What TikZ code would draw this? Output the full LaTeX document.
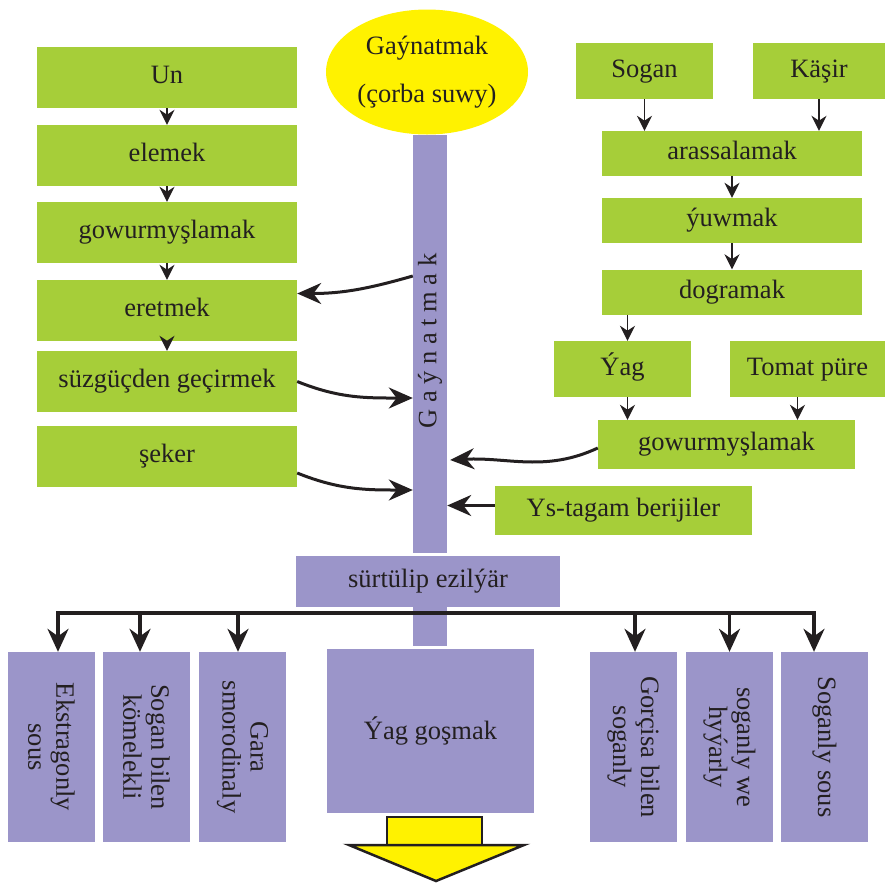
\documentclass[tikz,border=0pt]{standalone}
\usepackage{fontspec}
\setmainfont{Liberation Serif}
\usepackage{tikz}
\usetikzlibrary{positioning, arrows.meta, shapes.geometric}
\definecolor{leafgreen}{HTML}{A6CE39}
\definecolor{lavender}{HTML}{9B95C9}
\definecolor{sunyellow}{HTML}{FFF200}
\definecolor{ink}{HTML}{231F20}
\newcommand{\diafont}{\fontsize{26.5}{28}\selectfont}
\tikzstyle{stepbox} = [rectangle, fill=leafgreen, text=ink, font=\diafont,
    inner sep=0pt, text height=18pt, text depth=6pt]
\tikzstyle{leftbox} = [stepbox, minimum width=260pt, minimum height=61pt]
\tikzstyle{purplebox} = [rectangle, fill=lavender, text=ink, font=\diafont, inner sep=0pt]
\tikzstyle{dishbox} = [purplebox, minimum width=87pt, minimum height=190pt]
\tikzstyle{dishtext} = [rotate=-90, align=center, text=ink, font=\diafont]
\tikzstyle{smallarrow} = [draw, color=ink, line width=1.6pt, -{Stealth[length=15pt, width=15pt]}]
\tikzstyle{bigarrow} = [draw, color=ink, line width=3pt, -{Stealth[length=24pt, width=21pt]}]
\tikzstyle{forkarrow} = [draw, color=ink, line width=3.3pt, -{Stealth[length=23pt, width=21pt]}]

\begin{document}
\begin{tikzpicture}[x=1pt, y=1pt, node distance=78pt]
      \useasboundingbox (0,0) rectangle (885,-884);
      % Place flour nodes
      \node [leftbox] (flour) at (167,-77.5) {Un};
      \node [leftbox, below of=flour] (sift) {elemek};
      \node [leftbox, below of=sift, node distance=77pt] (roast) {gowurmyşlamak};
      \node [leftbox, below of=roast] (melt) {eretmek};
      \node [leftbox, below of=melt, node distance=71pt] (strain) {süzgüçden geçirmek};
      \node [leftbox, below of=strain, node distance=75pt] (sugar) {şeker};
      % Place vegetable nodes
      \node [stepbox, minimum width=137pt, minimum height=56pt] (onion) at (644.5,-71) {Sogan};
      \node [stepbox, minimum width=132pt, minimum height=56pt] (carrot) at (819,-71) {Käşir};
      \node [stepbox, minimum width=260pt, minimum height=45pt] (clean) at (732,-153.5) {arassalamak};
      \node [stepbox, minimum width=260pt, minimum height=45pt, below of=clean, node distance=67pt] (wash) {ýuwmak};
      \node [stepbox, minimum width=260pt, minimum height=45pt, below of=wash, node distance=71.5pt] (chop) {dogramak};
      \node [stepbox, minimum width=137pt, minimum height=56pt] (fat) at (622.5,-369) {Ýag};
      \node [stepbox, minimum width=155pt, minimum height=56pt] (tomato) at (807.5,-369) {Tomat püre};
      \node [stepbox, minimum width=257pt, minimum height=49pt] (fry) at (726.5,-444.5) {gowurmyşlamak};
      \node [stepbox, minimum width=257pt, minimum height=49pt] (spice) at (623.5,-510.5) {Ys-tagam berijiler};
      % Place boiling nodes
      \node [ellipse, fill=sunyellow, text=ink, font=\diafont, align=center, inner sep=0pt,
          minimum width=202pt, minimum height=125pt] (stock) at (427,-72) {Gaýnatmak\\[20pt](çorba suwy)};
      \node [purplebox, minimum width=34pt, minimum height=418pt] (boil) at (430,-344) {};
      \node [rotate=90, text=ink, font=\diafont] (boillabel) at ([yshift=3pt]boil.center) {G a ý n a t m a k};
      \node [purplebox, minimum width=264pt, minimum height=51pt, text height=18pt, text depth=6pt] (rub) at (428,-581.5) {sürtülip ezilýär};
      \node [purplebox, minimum width=34pt, minimum height=39pt] (stub) at (430,-626.5) {};
      \node [purplebox, minimum width=207pt, minimum height=164pt] (butter) at (430.5,-731) {Ýag goşmak};
      % Place sauce nodes
      \node [dishbox, label={[dishtext]center:Ekstragonly\\sous}] (tarragon) at (51.5,-747) {};
      \node [dishbox, label={[dishtext]center:Sogan bilen\\kömelekli}] (mushroom) at (146.5,-747) {};
      \node [dishbox, label={[dishtext]center:Gara\\smorodinaly}] (currant) at (242.5,-747) {};
      \node [dishbox, label={[dishtext]center:Gorçisa bilen\\soganly}] (mustard) at (633.5,-747) {};
      \node [dishbox, label={[dishtext]center:soganly we\\hyýarly}] (cucumber) at (729.5,-747) {};
      \node [dishbox, label={[dishtext]center:Soganly sous}] (onionsauce) at (824.5,-747) {};
      \coordinate (fork) at (430,-613);
      % Draw flour edges
      \path [smallarrow] (flour) -- (sift);
      \path [smallarrow] (sift) -- (roast);
      \path [smallarrow] (roast) -- (melt);
      \path [smallarrow] (melt) -- (strain);
      % Draw vegetable edges
      \path [smallarrow] (onion.south) -- (onion.south |- clean.north);
      \path [smallarrow] (carrot.south) -- (carrot.south |- clean.north);
      \path [smallarrow] (clean) -- (wash);
      \path [smallarrow] (wash) -- (chop);
      \path [smallarrow] ([xshift=5pt]fat.north |- chop.south) -- ([xshift=5pt]fat.north);
      \path [smallarrow] ([xshift=5pt]fat.south) -- ([xshift=5pt]fat.south |- fry.north);
      \path [smallarrow] ([xshift=-10pt]tomato.south) -- ([xshift=-10pt]tomato.south |- fry.north);
      % Draw boiling edges
      \draw [bigarrow] ([yshift=68pt]boil.west) to[out=196, in=0] ([yshift=17pt]melt.east);
      \draw [bigarrow] (strain.east) to[out=-22, in=180] ([yshift=-54pt]boil.west);
      \draw [bigarrow] ([yshift=-16.5pt]sugar.east) to[out=-22, in=180] ([yshift=-146pt]boil.west);
      \draw [bigarrow] ([yshift=-3.5pt]fry.west) to[out=205, in=3] ([xshift=3pt, yshift=-116pt]boil.east);
      \draw [bigarrow] ([yshift=5pt]spice.west) -- ([yshift=5pt]spice.west -| boil.east);
      % Draw sauce edges
      \draw [forkarrow] (fork) -| ([xshift=6.5pt]tarragon.north);
      \draw [forkarrow] (fork) -| ([xshift=-6.5pt]mushroom.north);
      \draw [forkarrow] (fork) -| ([xshift=-4.5pt]currant.north);
      \draw [forkarrow] (fork) -| ([xshift=1.5pt]mustard.north);
      \draw [forkarrow] (fork) -| (cucumber.north);
      \draw [forkarrow] (fork) -| ([xshift=-10.5pt]onionsauce.north);
      % Yellow output arrow
      \draw [line width=2.5pt, draw=ink, fill=sunyellow] (387,-817) rectangle (482,-845);
      \draw [line width=2.5pt, draw=ink, fill=sunyellow] (349,-845) -- (524,-845) -- (436,-881) -- cycle;
  \end{tikzpicture}
\end{document}
